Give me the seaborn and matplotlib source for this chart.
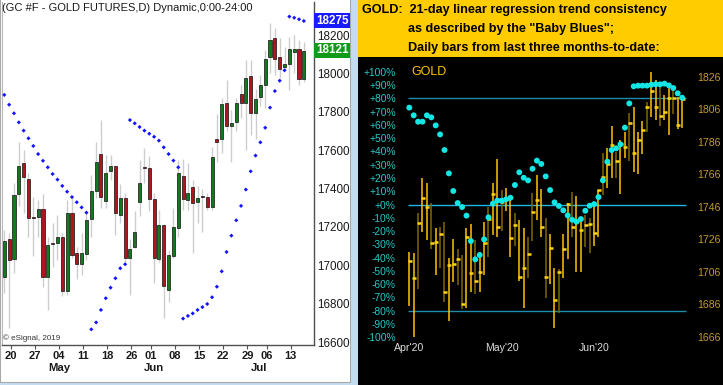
import matplotlib
matplotlib.use("Agg")
import matplotlib.pyplot as plt
from matplotlib.patches import Rectangle
import numpy as np
import seaborn as sns

W, H = 723, 385

# ---- left panel: GC #F daily candles (price x10) ----
gc_open = [16938, 17136, 17032, 17370, 17532, 17452, 17252, 17254, 17295, 16941,
           17118, 17117, 17146, 16868, 17275, 17065, 17009, 17059, 17240, 17389,
           17579, 17335, 17493, 17518, 17262, 17349, 17037, 17098, 17332, 17515,
           17506, 17344, 17032, 17210, 16872, 17049, 17193, 17467, 17340, 17410,
           17329, 17360, 17358, 17302, 17656, 17657, 17844, 17726, 17749, 17893,
           17844, 17986, 17792, 17879, 17940, 18084, 18183, 18084, 18035, 18049,
           18113, 18127, 17969]
gc_high = [17184, 17167, 17427, 17644, 17601, 17480, 17358, 17341, 17370, 17150,
           17219, 17263, 17167, 17341, 17358, 17098, 17167, 17280, 17471, 17644,
           17757, 17575, 17575, 17523, 17424, 17375, 17136, 17283, 17549, 17610,
           17570, 17375, 17288, 17215, 17080, 17297, 17549, 17552, 17532, 17445,
           17414, 17396, 17375, 17618, 17789, 17870, 17966, 17809, 17870, 17940,
           18070, 18070, 17917, 17992, 18122, 18261, 18235, 18183, 18139, 18191,
           18200, 18174, 18165]
gc_low = [16855, 16672, 16962, 17309, 17271, 17150, 17049, 17150, 16889, 16768,
          16993, 17028, 16841, 16846, 17037, 16927, 16950, 17028, 17150, 17350,
          17299, 17297, 17445, 17158, 17219, 17020, 16846, 17090, 17257, 17431,
          17285, 16910, 17020, 16724, 16811, 17040, 17150, 17290, 17288, 17066,
          17223, 17176, 17290, 17290, 17540, 17584, 17700, 17540, 17700, 17766,
          17600, 17679, 17660, 17830, 17820, 18000, 17990, 17975, 18025, 17913,
          18000, 17940, 17957]
gc_close = [17125, 17028, 17367, 17518, 17459, 17249, 17246, 17295, 16938, 17106,
            17112, 17146, 16868, 17275, 17054, 17009, 17063, 17236, 17387, 17540,
            17358, 17483, 17518, 17275, 17349, 17037, 17084, 17176, 17431, 17507,
            17344, 17037, 17210, 16893, 17056, 17202, 17483, 17344, 17378, 17323,
            17353, 17356, 17306, 17563, 17644, 17839, 17726, 17743, 17848, 17844,
            17978, 17796, 17867, 17940, 18073, 18174, 18077, 18021, 18047, 18127,
            18127, 17971, 18118]
gc_sar = [17888, 17837, 17792, 17745, 17702, 17662, 17622, 17580, 17545, 17511,
          17476, 17447, 17414, 17384, 17356, 17329, 17302, 17275,
          16667, 16703, 16768, 16829, 16884, 16933, 16985, 17006,
          17757, 17740, 17721, 17702, 17686, 17670, 17650, 17615, 17580, 17546, 17511,
          16723, 16737, 16750, 16768, 16783, 16799, 16834, 16889, 16969, 17070,
          17155, 17235, 17310, 17395, 17490, 17572, 17641, 17717, 17822, 17908,
          17962, 18016,
          18296, 18290, 18282, 18273]
gc_day_pos = [1, 6, 11, 16, 21, 26, 30, 35, 40, 45, 50, 54, 59]
gc_day_labels = ["20", "27", "04", "11", "18", "26", "01", "08", "15", "22", "29", "06", "13"]
gc_month_pos = [11.3, 31.0, 52.7]
gc_month_labels = ["May", "Jun", "Jul"]
gc_price_ticks = list(range(16600, 18201, 200))
gc_sar_label = 18275
gc_last_label = 18121

# ---- right panel: GOLD daily bars + "Baby Blues" ----
gold_high = [1718.5, 1717.5, 1742.1, 1764.0, 1760.5, 1748.2, 1732.8, 1733.5, 1737.0, 1714.4,
             1726.1, 1719.9, 1716.4, 1732.8, 1735.3, 1725.7, 1718.5, 1737.0, 1746.2, 1760.5,
             1775.5, 1756.4, 1757.5, 1752.3, 1742.1, 1738.0, 1732.8, 1727.7, 1754.4, 1765.7,
             1756.8, 1739.0, 1729.2, 1708.2, 1707.8, 1729.2, 1748.2, 1755.0, 1752.9, 1736.9,
             1741.1, 1739.0, 1747.2, 1756.4, 1779.0, 1782.1, 1796.0, 1780.0, 1787.2, 1792.0,
             1803.6, 1807.3, 1792.3, 1798.9, 1810.8, 1829.2, 1824.1, 1820.0, 1814.9, 1819.4,
             1819.0, 1813.9, 1812.8]
gold_low = [1685.3, 1666.2, 1695.5, 1730.8, 1725.7, 1720.1, 1704.1, 1708.2, 1687.3, 1676.0,
            1700.0, 1698.0, 1683.0, 1684.0, 1693.5, 1692.2, 1693.5, 1704.1, 1715.4, 1728.7,
            1727.7, 1731.2, 1743.5, 1715.4, 1722.2, 1700.4, 1684.0, 1702.5, 1725.1, 1738.0,
            1727.7, 1690.2, 1698.4, 1671.7, 1680.5, 1702.5, 1714.0, 1727.7, 1706.2, 1706.2,
            1721.6, 1717.5, 1722.2, 1727.7, 1753.4, 1757.9, 1763.6, 1763.6, 1753.8, 1776.0,
            1774.3, 1767.3, 1766.1, 1778.6, 1792.3, 1801.6, 1799.5, 1796.0, 1799.5, 1790.3,
            1803.0, 1794.0, 1794.8]
gold_close = [1712.7, 1702.5, 1736.3, 1751.7, 1746.0, 1724.0, 1724.4, 1729.2, 1693.5, 1710.3,
              1710.7, 1714.0, 1686.1, 1727.7, 1705.2, 1700.4, 1705.8, 1723.6, 1738.6, 1754.2,
              1733.9, 1749.3, 1750.9, 1727.1, 1734.9, 1703.1, 1708.2, 1716.9, 1743.1, 1750.3,
              1733.9, 1703.1, 1720.9, 1688.7, 1705.8, 1719.9, 1747.8, 1733.9, 1737.6, 1731.8,
              1734.9, 1735.3, 1729.8, 1756.4, 1764.6, 1772.2, 1784.1, 1774.0, 1784.7, 1783.0,
              1797.9, 1779.0, 1787.2, 1793.4, 1807.3, 1817.3, 1807.3, 1802.0, 1804.6, 1812.8,
              1812.8, 1796.4, 1812.2]
gold_bright = [1, 1, 0, 1, 1, 0, 1, 0, 0, 1, 1, 0, 0, 1, 1, 0, 1, 1, 0, 1,
               1, 0, 1, 1, 0, 1, 1, 0, 0, 1, 1, 0, 1, 1, 0, 1, 1, 0, 1, 1,
               0, 0, 1, 1, 0, 1, 1, 0, 1, 1, 0, 1, 1, 1, 0, 1, 1, 0, 1, 1,
               0, 1, 1]
baby_blues = [73.1, 67.3, 62.5, 62.5, 67.3, 65.8, 59.7, 52.9, 41.1, 23.5,
              10.2, 1.1, -1.9, -8.4, -27.6, -41.4, -38.1, -26.3, -9.7, 0.6,
              2.9, 2.9, 3.9, 5.1, 14.7, 24.3, 20.2, 18.2, 27.0, 33.1,
              30.6, 21.2, 10.9, 1.6, -1.1, -4.4, -8.2, -11.5, -13.0, -11.0,
              -4.7, -0.9, 0.3, 5.6, 18.2, 32.3, 41.1, 42.4, 45.4, 58.0,
              76.3, 89.2, 89.7, 89.7, 89.7, 90.4, 90.7, 90.7, 91.2, 89.9,
              87.9, 83.9, 80.6]
gold_month_pos = [0, 21, 42]
gold_month_labels = ["Apr'20", "May'20", "Jun'20"]
pct_ticks = list(range(-100, 101, 10))
pct_labels = [("+" if v >= 0 else "") + f"{v}%" for v in pct_ticks]
gold_price_ticks = [1666, 1686, 1706, 1726, 1746, 1766, 1786, 1806, 1826]
pct_levels = [80, 0, -80]

sns.set_style("white")
plt.rcParams["font.family"] = ["Liberation Sans", "DejaVu Sans"]

fig = plt.figure(figsize=(W / 100, H / 100), dpi=100, facecolor="#c4dcf2")


def px_axes(x0, y0, x1, y1):
    return fig.add_axes([x0 / W, 1 - y1 / H, (x1 - x0) / W, (y1 - y0) / H])


def px_rect(x0, y0, x1, y1, **kw):
    fig.add_artist(Rectangle((x0 / W, 1 - y1 / H), (x1 - x0) / W, (y1 - y0) / H,
                             transform=fig.transFigure, zorder=-5, **kw))


# panel backgrounds
px_rect(0, -2, 350, 382, facecolor="white", edgecolor="#a8a8a8", linewidth=0.8)
px_rect(358, 0, 723, 57, facecolor="#ffcc00", edgecolor="none")
px_rect(358, 57, 723, 386, facecolor="black", edgecolor="none")

# ---------------- left candle chart ----------------
axL = px_axes(2, 2, 314, 345)
axL.set_facecolor("white")
idx = np.arange(len(gc_close))
o = np.array(gc_open)
c = np.array(gc_close)
body_lo = np.minimum(o, c)
body_h = np.maximum(np.abs(c - o), 7)
body_col = np.where(c > o, "#107a1c", np.where(c < o, "#b0141c", "black"))

axL.vlines(idx, gc_low, gc_high, color="#cdcdcd", linewidth=1.0, zorder=1)
axL.bar(idx, body_h, bottom=body_lo, width=0.64, color=body_col,
        edgecolor="#101010", linewidth=0.5, zorder=2)
sns.scatterplot(x=idx, y=gc_sar, ax=axL, color="#1414ff", s=4.5, marker="D",
                edgecolor="none", legend=False, zorder=3)

axL.set_xlim(-0.48, 64.1)
axL.set_ylim(16585.4, 18371.9)
axL.spines["top"].set_visible(False)
axL.spines["left"].set_color("#b8b8b8")
axL.spines["right"].set_color("#505050")
axL.spines["bottom"].set_color("#505050")
axL.spines["right"].set_linewidth(1.0)
axL.spines["bottom"].set_linewidth(1.0)

axL.yaxis.tick_right()
axL.set_yticks(gc_price_ticks)
axL.set_yticklabels([str(v) for v in gc_price_ticks])
axL.tick_params(axis="y", length=0, pad=2, labelsize=8.4, labelcolor="#1a1a1a")
axL.set_xticks(np.array(gc_day_pos) + 0.3)
axL.set_xticklabels(gc_day_labels, fontweight="bold")
axL.tick_params(axis="x", length=3, width=0.8, color="#505050", pad=1.5,
                labelsize=8, labelcolor="#1a1a1a", bottom=True)
for pos, lab in zip(gc_month_pos, gc_month_labels):
    axL.text(pos, -23 / 343, lab, transform=axL.get_xaxis_transform(),
             ha="center", va="center", fontsize=8.2, fontweight="bold", color="#1a1a1a")

ytr = axL.get_yaxis_transform()
axL.text(1.006, gc_sar_label, str(gc_sar_label), transform=ytr, ha="left", va="center",
         fontsize=8.4, color="white", fontweight="bold",
         bbox=dict(boxstyle="square,pad=0.12", facecolor="#1a1aff", edgecolor="none"))
axL.text(1.006, gc_last_label, str(gc_last_label), transform=ytr, ha="left", va="center",
         fontsize=8.4, color="white", fontweight="bold",
         bbox=dict(boxstyle="square,pad=0.12", facecolor="#129a1a", edgecolor="none"))

fig.text(2 / W, 1 - 8 / H, "(GC #F - GOLD FUTURES,D) Dynamic,0:00-24:00",
         ha="left", va="center", fontsize=8.0, color="#1a1a1a")
fig.text(3 / W, 1 - 338 / H, "\u00a9 eSignal, 2019", ha="left", va="center",
         fontsize=5.8, color="#333333")

# ---------------- right "Baby Blues" chart ----------------
axR = px_axes(400, 65, 692, 340)
axR.set_facecolor("black")
axR.set_xlim(-2.11, 64.25)
axR.set_ylim(-102.26, 105.28)
for s in axR.spines.values():
    s.set_visible(False)

axR.hlines(pct_levels, -0.3, 62.9, colors=["#1e8db0", "#1fb6e8", "#1e8db0"],
           linewidth=1.0, zorder=1)
bidx = np.arange(len(baby_blues))

axR.set_yticks(pct_ticks)
axR.set_yticklabels(pct_labels)
axR.tick_params(axis="y", length=0, pad=3, labelsize=7.4, labelcolor="#2cc8c8", left=True)
axR.set_xticks(gold_month_pos)
axR.set_xticklabels(gold_month_labels)
axR.tick_params(axis="x", length=0, pad=2.5, labelsize=7.6, labelcolor="#dcdcdc")

axP = axR.twinx()
axP.set_ylim(1664.15, 1833.38)
for s in axP.spines.values():
    s.set_visible(False)
bar_col = np.where(np.array(gold_bright) == 1, "#ffc400", "#806800")
axP.vlines(bidx, gold_low, gold_high, colors=bar_col, linewidth=1.1, zorder=2)
axP.hlines(gold_close, bidx - 0.35, bidx + 0.55, colors="#ffd21a", linewidth=1.8, zorder=3)
axP.set_yticks(gold_price_ticks)
axP.set_yticklabels([str(v) for v in gold_price_ticks])
axP.tick_params(axis="y", length=0, pad=3.5, labelsize=7.6, labelcolor="#c29a34")
axR.set_zorder(1)
axP.set_zorder(2)
axP.patch.set_visible(False)
# "Baby Blues" dots drawn on the twin (on top of the bars) in pct coordinates
sns.scatterplot(x=bidx, y=baby_blues, ax=axP, transform=axR.transData,
                color="#14e6e6", s=18, edgecolor="none", legend=False, zorder=4)
axP.set_ylim(1664.15, 1833.38)

fig.text(411 / W, 1 - 72 / H, "GOLD", ha="left", va="center", fontsize=9,
         color="#ffc000")

fig.text(362 / W, 1 - 10 / H, "GOLD:  21-day linear regression trend consistency",
         ha="left", va="center", fontsize=9.1, fontweight="bold", color="black")
fig.text(408 / W, 1 - 29 / H, "as described by the \"Baby Blues\";",
         ha="left", va="center", fontsize=9.1, fontweight="bold", color="black")
fig.text(408 / W, 1 - 48 / H, "Daily bars from last three months-to-date:",
         ha="left", va="center", fontsize=9.1, fontweight="bold", color="black")

fig.savefig("out.png", dpi=100, facecolor=fig.get_facecolor())
